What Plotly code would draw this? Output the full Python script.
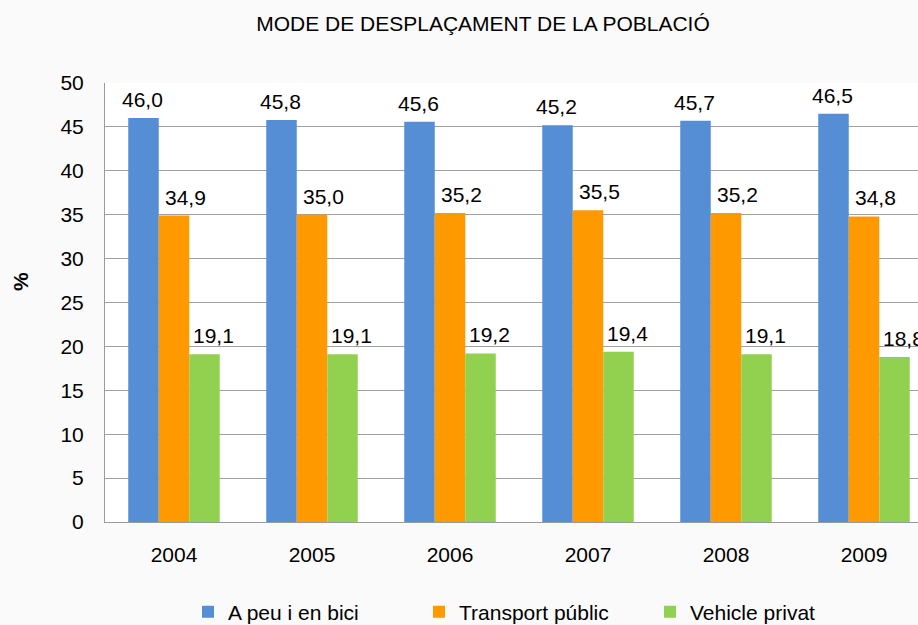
import plotly.graph_objects as go

years = ["2004", "2005", "2006", "2007", "2008", "2009"]
a_peu = [46.0, 45.8, 45.6, 45.2, 45.7, 46.5]
transport = [34.9, 35.0, 35.2, 35.5, 35.2, 34.8]
vehicle = [19.1, 19.1, 19.2, 19.4, 19.1, 18.8]
series_names = ["A peu i en bici", "Transport públic", "Vehicle privat"]
colors = ["#558ED5", "#FF9900", "#92D050"]
label_xshift = [-32, 11, 39]

FONT = "Liberation Sans, Arial, sans-serif"
FS = 21
W, H = 918, 625
L, T, B = 105, 83, 103
PH = H - T - B
plot_w = W - L
cat_px = 138.0

fig = go.Figure()
all_series = [a_peu, transport, vehicle]
for name, vals, col in zip(series_names, all_series, colors):
    fig.add_trace(go.Bar(x=years, y=vals, name=name, marker=dict(color=col, line=dict(width=0))))

def fmt(v):
    return f"{v:.1f}".replace(".", ",")

for vals, xs in zip(all_series, label_xshift):
    for i, v in enumerate(vals):
        fig.add_annotation(x=i, y=v, text=fmt(v), showarrow=False, xref="x", yref="y",
                           xanchor="center", yanchor="bottom", xshift=xs, yshift=5,
                           font=dict(family=FONT, size=FS, color="#000000"))

# y-axis title (placed left of the tick labels, slightly above the plot middle)
fig.add_annotation(text="<b>%</b>", textangle=-90,
                   x=(20 - L) / plot_w, y=(H - B - 282) / PH,
                   xref="paper", yref="paper", showarrow=False,
                   xanchor="center", yanchor="middle",
                   font=dict(family=FONT, size=FS, color="#000000"))

fig.update_layout(
    width=W, height=H,
    margin=dict(l=L, r=0, t=T, b=B, autoexpand=False),
    paper_bgcolor="#fafafa", plot_bgcolor="#ffffff",
    barmode="group", bargap=0.337, bargroupgap=0,
    font=dict(family=FONT, size=FS, color="#000000"),
    title=dict(text="MODE DE DESPLAÇAMENT DE LA POBLACIÓ", x=483 / W, xanchor="center",
               y=1 - 24 / H, yanchor="middle", xref="container", yref="container",
               font=dict(family=FONT, size=FS, color="#000000")),
    xaxis=dict(type="category", range=[-0.5, -0.5 + plot_w / cat_px], showgrid=False,
               showline=True, linecolor="#9a9a9a", linewidth=1, ticks="",
               ticklabelstandoff=14, tickfont=dict(size=FS)),
    yaxis=dict(range=[0, 50], dtick=5, showgrid=True, gridcolor="#a0a0a0", gridwidth=1,
               showline=True, linecolor="#9a9a9a", linewidth=1, ticks="", zeroline=False,
               ticklabelstandoff=16, tickfont=dict(size=FS)),
    legend=dict(orientation="h", x=(188 - L) / plot_w, xanchor="left",
                y=-(612 - (H - B)) / PH, yanchor="middle",
                entrywidth=186, font=dict(size=FS), bgcolor="rgba(0,0,0,0)",
                traceorder="normal"),
    showlegend=True,
)

fig.write_html("out.html", post_script="document.body.style.margin='0';",
               config={"displayModeBar": False})
